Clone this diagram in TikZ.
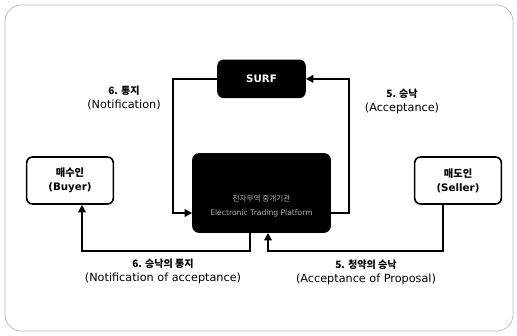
\documentclass[tikz,border=0pt]{standalone}
\usepackage{fontspec}
\setmainfont{DejaVu Sans}
\newfontfamily\kr{Noto Sans CJK KR}
\newcommand{\krlbl}[1]{{\kr\bfseries\fontsize{8.6}{12}\selectfont #1}}
\usetikzlibrary{arrows.meta, positioning, calc}

\begin{document}
\begin{tikzpicture}[
    x=0.03cm, y=-0.03cm,
    box/.style={rectangle, draw, rounded corners=5pt, line width=1.4pt, align=center, font=\fontsize{8.8}{12}\selectfont\bfseries},
    darkbox/.style={box, fill=black, text=white},
    partybox/.style={box, fill=white, minimum width=2.6cm, minimum height=1.41cm},
    lbl/.style={align=center, font=\fontsize{9.6}{12}\selectfont},
    arrow/.style={-{Triangle[length=6.5pt, width=6.5pt]}, line width=1.4pt}
]
\useasboundingbox (0,0) rectangle (517,335);
\draw[gray!55, line width=0.6pt, rounded corners=14pt] (5,5) rectangle (513,331);

\node[darkbox, minimum width=4.11cm, minimum height=2.34cm] (platform) at (261.5,193) {};
\node[darkbox, minimum width=2.61cm, minimum height=1.11cm, above=1.65cm of platform] (surf) {SURF};
\node[partybox] (buyer) at (70,180.5) {{\kr 매수인}\\(Buyer)};
\node[partybox] (seller) at (458,180.5) {{\kr 매도인}\\(Seller)};
\node[align=center, text=gray!60, font=\fontsize{6.5}{12}\selectfont] (plattext) at ($(platform)+(0,13)$) {{\kr 전자무역 중개기관}\\Electronic Trading Platform};

% labels
\node[lbl] (notify) at (124,98) {\krlbl{6. 통지}\\(Notification)};
\node[lbl] (accept) at (402,101) {\krlbl{5. 승낙}\\(Acceptance)};
\node[lbl] (notifyacc) at (163,271) {\krlbl{6. 승낙의 통지}\\(Notification of acceptance)};
\node[lbl] (acceptprop) at (366,272) {\krlbl{5. 청약의 승낙}\\(Acceptance of Proposal)};

\draw[arrow] (surf.west) -- ++(-44,0) |- ($(platform.west)+(0,20)$);
\draw[arrow] ($(platform.east)+(0,20)$) -- ++(18,0) |- (surf.east);
\draw[arrow] ($(platform.south)+(-11.5,0)$) -- ++(0,18) -| ($(buyer.south)+(12,0)$);
\draw[arrow] ($(seller.south)+(-15,0)$) -- ++(0,46) -| ($(platform.south)+(6.5,0)$);
\end{tikzpicture}
\end{document}
